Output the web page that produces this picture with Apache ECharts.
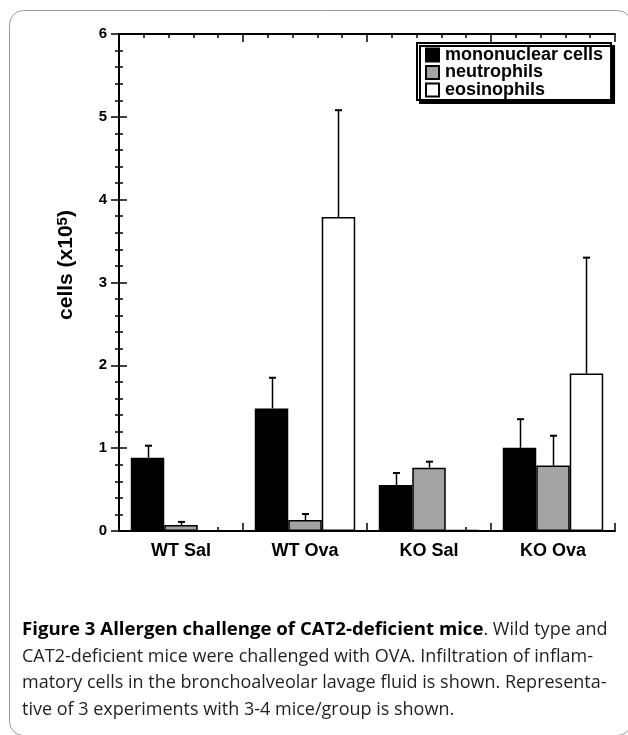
<!DOCTYPE html>
<html>
<head>
<meta charset="utf-8">
<script src="https://cdn.jsdelivr.net/npm/echarts@6/dist/echarts.min.js"></script>
<style>
html,body{margin:0;padding:0;background:#fff;}
#chart{width:628px;height:735px;}
</style>
</head>
<body>
<div id="chart"></div>
<script>
const categories = ['WT Sal', 'WT Ova', 'KO Sal', 'KO Ova'];
const seriesNames = ['mononuclear cells', 'neutrophils', 'eosinophils'];
const mononuclear = [0.885, 1.48, 0.555, 1.005];
const mononuclearErr = [0.145, 0.37, 0.145, 0.345];
const neutrophils = [0.072, 0.133, 0.765, 0.79];
const neutrophilsErr = [0.038, 0.072, 0.072, 0.36];
const eosinophils = [0, 3.79, 0.015, 1.9];
const eosinophilsErr = [0, 1.29, 0, 1.40];
const yTicks = [0, 1, 2, 3, 4, 5, 6];
const captionLines = [
  ['Figure 3 Allergen challenge of CAT2-deficient mice', '. Wild type and'],
  ['', 'CAT2-deficient mice were challenged with OVA. Infiltration of inflam-'],
  ['', 'matory cells in the bronchoalveolar lavage fluid is shown. Representa-'],
  ['', 'tive of 3 experiments with 3-4 mice/group is shown.']
];

const FONT = "'Liberation Sans', Arial, Helvetica, sans-serif";
const CAPFONT = "'Open Sans', 'Noto Sans', sans-serif";
const colors = ['#000000', '#a3a3a3', '#ffffff'];
const GAP = 0.19;

const chart = echarts.init(document.getElementById('chart'), null, {renderer: 'canvas'});

function barSeries(name, data, color) {
  return {
    name: name, type: 'bar', data: data, xAxisIndex: 0, yAxisIndex: 0,
    barGap: '0%', barCategoryGap: (GAP * 100) + '%',
    itemStyle: {color: color, borderColor: '#000', borderWidth: 1.5},
    emphasis: {disabled: true}, z: 2
  };
}
function errSeries(si, vals, errs) {
  return {
    name: 'err' + si, type: 'custom', xAxisIndex: 0, yAxisIndex: 0,
    encode: {x: 0, y: 1},
    data: vals.map((v, i) => [i, v, errs[i]]),
    renderItem: function (params, api) {
      const i = api.value(0), v = api.value(1), e = api.value(2);
      if (!e) return null;
      const band = api.size([1, 0])[0];
      const bw = band * (1 - GAP) / 3;
      const c = api.coord([i, v]);
      const t = api.coord([i, v + e]);
      const x = Math.round(c[0] + (si - 1) * bw) + 0.5;
      return {
        type: 'group', children: [
          {type: 'line', shape: {x1: x, y1: c[1], x2: x, y2: t[1]}, style: {stroke: '#000', lineWidth: 1.5}},
          {type: 'line', shape: {x1: x - 3.5, y1: t[1], x2: x + 3.5, y2: t[1]}, style: {stroke: '#000', lineWidth: 2}}
        ]
      };
    },
    z: 1, silent: true
  };
}

function tickAxisCommon() {
  return {
    axisTick: {show: true, inside: true, length: 8, lineStyle: {color: '#000', width: 1.5}},
    minorTick: {show: true, splitNumber: 5, length: 4, lineStyle: {color: '#000', width: 1.5}},
    splitLine: {show: false}, minorSplitLine: {show: false}
  };
}

const captionGraphics = captionLines.map((ln, k) => ({
  type: 'text', x: 22, y: 630 + k * 26.5, silent: true,
  style: {
    text: (ln[0] ? '{b|' + ln[0] + '}' : '') + '{r|' + ln[1] + '}',
    verticalAlign: 'middle',
    rich: {
      b: {fontFamily: CAPFONT, fontWeight: 'bold', fontSize: 18.6, fill: '#000'},
      r: {fontFamily: CAPFONT, fontSize: 18, fill: '#231f20'}
    }
  }
}));

const option = {
  animation: false,
  backgroundColor: '#fff',
  textStyle: {fontFamily: FONT},
  grid: {left: 119, right: 13, top: 34, bottom: 204, containLabel: false},
  legend: {
    data: seriesNames, orient: 'vertical', left: 417, top: 43,
    padding: [3, 8, 1, 8], itemGap: -0.5, itemWidth: 13, itemHeight: 13,
    icon: 'rect', selectedMode: false,
    backgroundColor: '#fff', borderColor: '#000', borderWidth: 2,
    shadowColor: '#000', shadowBlur: 0, shadowOffsetX: 3, shadowOffsetY: 3,
    textStyle: {fontFamily: FONT, fontSize: 18, fontWeight: 'bold', color: '#000', padding: [0, 0, 0, 1]},
    z: 10
  },
  xAxis: [
    {
      type: 'category', data: categories, position: 'bottom', boundaryGap: true,
      axisLine: {show: true, lineStyle: {color: '#000', width: 2}},
      axisTick: {show: false},
      axisLabel: {fontFamily: FONT, fontSize: 18, fontWeight: 'bold', color: '#000', margin: 11}
    },
    Object.assign({
      type: 'value', min: 0, max: 4, interval: 1, position: 'bottom',
      axisLine: {show: false}, axisLabel: {show: false}
    }, tickAxisCommon()),
    Object.assign({
      type: 'value', min: 0, max: 4, interval: 1, position: 'top',
      axisLine: {show: true, lineStyle: {color: '#000', width: 2}}, axisLabel: {show: false}
    }, tickAxisCommon())
  ],
  yAxis: [
    Object.assign({
      type: 'value', min: yTicks[0], max: yTicks[yTicks.length - 1], interval: 1, position: 'left',
      axisLine: {show: true, lineStyle: {color: '#000', width: 2}},
      axisLabel: {fontFamily: FONT, fontSize: 15, fontWeight: 'bold', color: '#000', margin: 12}
    }, tickAxisCommon()),
    Object.assign({
      type: 'value', min: yTicks[0], max: yTicks[yTicks.length - 1], interval: 1, position: 'right',
      axisLine: {show: true, lineStyle: {color: '#000', width: 2}},
      axisLabel: {show: false}
    }, tickAxisCommon())
  ],
  series: [
    barSeries(seriesNames[0], mononuclear, colors[0]),
    barSeries(seriesNames[1], neutrophils, colors[1]),
    barSeries(seriesNames[2], eosinophils, colors[2]),
    errSeries(0, mononuclear, mononuclearErr),
    errSeries(1, neutrophils, neutrophilsErr),
    errSeries(2, eosinophils, eosinophilsErr)
  ],
  graphic: [
    {type: 'rect', silent: true, z: -10, shape: {x: 9.5, y: 10.5, width: 622, height: 725, r: 14},
      style: {fill: 'none', stroke: '#9a9a9a', lineWidth: 1}},
    {type: 'text', silent: true, x: 66, y: 265, rotation: Math.PI / 2,
      style: {
        text: '{a|cells (x10}{s|5}{a|)}', align: 'center', verticalAlign: 'middle',
        rich: {
          a: {fontFamily: FONT, fontSize: 21, fontWeight: 'bold', fill: '#000', lineHeight: 21, padding: [10, 0, 0, 0], verticalAlign: 'bottom'},
          s: {fontFamily: FONT, fontSize: 15, fontWeight: 'bold', fill: '#000', lineHeight: 15, verticalAlign: 'top'}
        }
      }}
  ].concat(captionGraphics)
};
chart.setOption(option);
</script>
</body>
</html>
